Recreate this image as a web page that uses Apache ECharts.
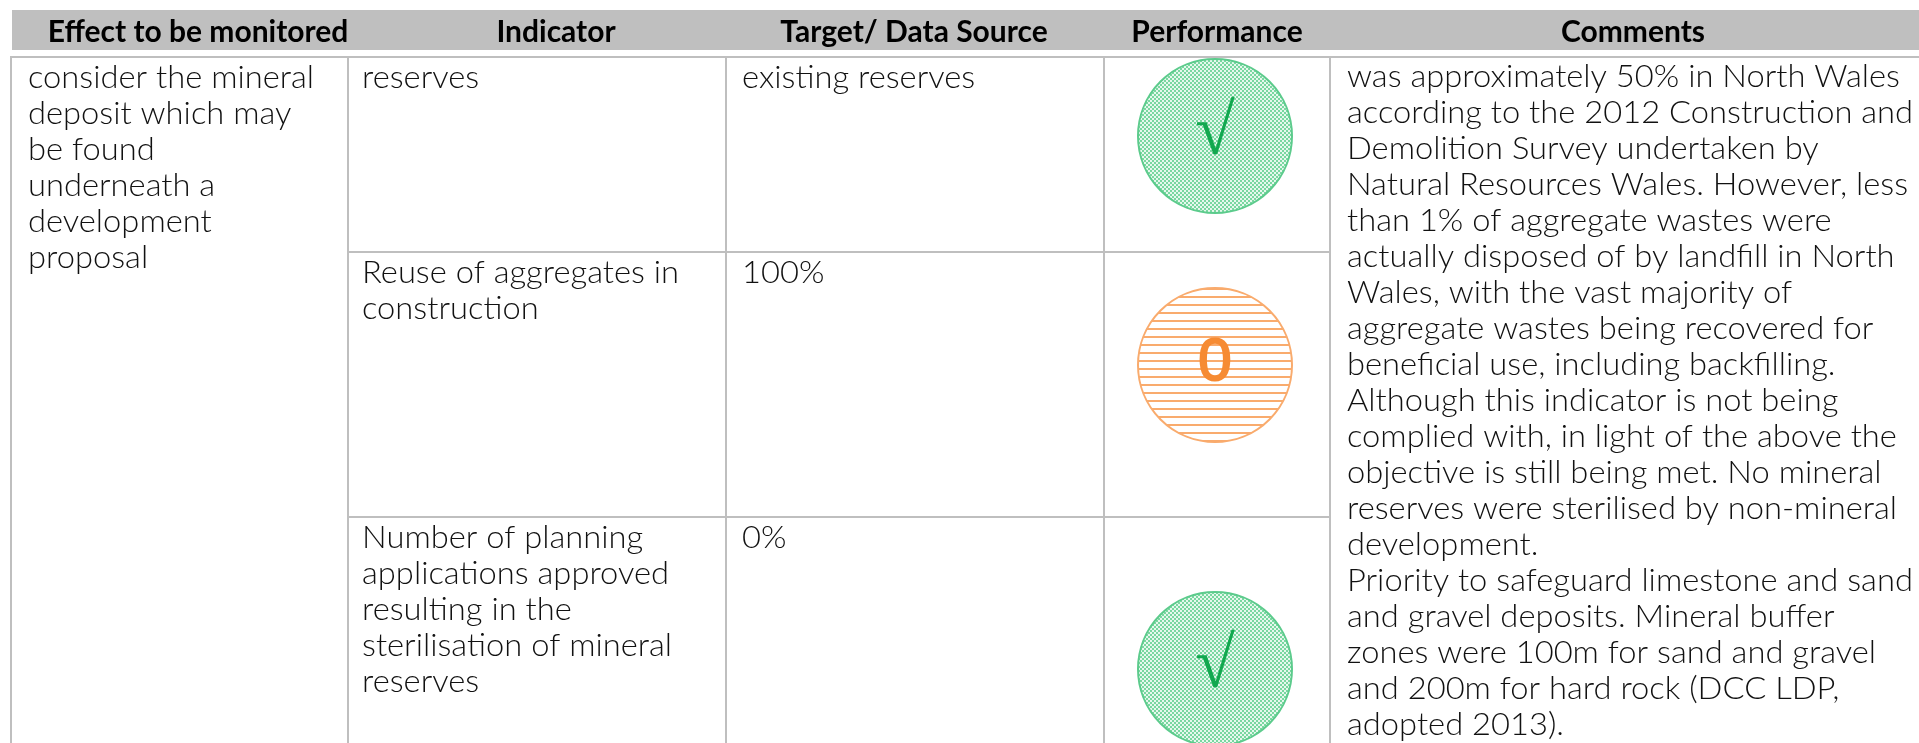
<!DOCTYPE html>
<html>
<head>
<meta charset="utf-8">
<title>Monitoring table</title>
<script src="https://cdn.jsdelivr.net/npm/echarts@6/dist/echarts.min.js"></script>
<style>
  html, body { margin: 0; padding: 0; background: #fff; }
  #chart { width: 1919px; height: 743px; }
</style>
</head>
<body>
<div id="chart"></div>
<script>
// table content
const headers = ['Effect to be monitored', 'Indicator', 'Target/ Data Source', 'Performance', 'Comments']
const effectLines = ['consider the mineral', 'deposit which may', 'be found', 'underneath a', 'development', 'proposal']
const indicatorLines = [
  ['reserves'],
  ['Reuse of aggregates in', 'construction'],
  ['Number of planning', 'applications approved', 'resulting in the', 'sterilisation of mineral', 'reserves']
]
const targetLines = [['existing reserves'], ['100%'], ['0%']]
const performance = ['met', 'partial', 'met']
const performanceMarks = ['√', '0', '√']
const commentLines = [
  'was approximately 50% in North Wales',
  'according to the 2012 Construction and',
  'Demolition Survey undertaken by',
  'Natural Resources Wales. However, less',
  'than 1% of aggregate wastes were',
  'actually disposed of by landfill in North',
  'Wales, with the vast majority of',
  'aggregate wastes being recovered for',
  'beneficial use, including backfilling.',
  'Although this indicator is not being',
  'complied with, in light of the above the',
  'objective is still being met. No mineral',
  'reserves were sterilised by non-mineral',
  'development.',
  'Priority to safeguard limestone and sand',
  'and gravel deposits. Mineral buffer',
  'zones were 100m for sand and gravel',
  'and 200m for hard rock (DCC LDP,',
  'adopted 2013).'
]

// layout, in page pixels (the hidden axes run 1:1 with the page)
const colEdges = [11, 348, 726, 1104, 1330, 1930]
const rowEdges = [57, 252, 517, 760]
const headerBand = [10, 50]
const headerCentres = [198, 556, 914, 1217, 1633]
const lineHeight = 36
const circleCentreY = [136, 365, 669]
const circleRadius = 77

const bodyFont = 'Lato, sans-serif'
const headFont = 'Lato, sans-serif'
const lineColor = '#bfbfbf'
const textColor = '#111'
const bodyScaleX = 1.055

const dotPattern = (() => {
  const c = document.createElement('canvas')
  c.width = 4
  c.height = 4
  const g = c.getContext('2d')
  g.fillStyle = '#e6f8ed'
  g.fillRect(0, 0, 4, 4)
  g.fillStyle = '#79d7a0'
  g.fillRect(0, 0, 2, 2)
  g.fillRect(2, 2, 2, 2)
  return c
})()

const stripePattern = (() => {
  const c = document.createElement('canvas')
  c.width = 8
  c.height = 8
  const g = c.getContext('2d')
  g.fillStyle = '#fff'
  g.fillRect(0, 0, 8, 8)
  g.fillStyle = '#f9ab6d'
  g.fillRect(0, 0, 8, 2)
  return c
})()

const chart = echarts.init(document.getElementById('chart'), null, { renderer: 'canvas' })

// one block of left-aligned lines per cell
const cellData = []
effectLines.forEach((t, i) => cellData.push([28, 78 + i * lineHeight, t]))
indicatorLines.forEach((lines, r) => lines.forEach((t, i) => cellData.push([362, rowEdges[r] + 21 + i * lineHeight, t])))
targetLines.forEach((lines, r) => lines.forEach((t, i) => cellData.push([742, rowEdges[r] + 21 + i * lineHeight, t])))
commentLines.forEach((t, i) => cellData.push([1347, 77 + i * lineHeight, t]))

const option = {
  animation: false,
  grid: { left: 0, right: 0, top: 0, bottom: 0 },
  xAxis: { type: 'value', min: 0, max: 1919, show: false },
  yAxis: { type: 'value', min: 0, max: 743, inverse: true, show: false },
  series: [
    {
      // header band and its labels
      type: 'custom',
      data: headers.map((h, i) => [headerCentres[i], h]),
      encode: { x: 0 },
      renderItem: (params, api) => {
        const i = params.dataIndex
        const [x, y] = api.coord([api.value(0), (headerBand[0] + headerBand[1]) / 2 + 2])
        const children = []
        if (i === 0) {
          const a = api.coord([12, headerBand[0]])
          const b = api.coord([1919, headerBand[1]])
          children.push({ type: 'rect', shape: { x: a[0], y: a[1], width: b[0] - a[0], height: b[1] - a[1] }, style: { fill: lineColor } })
        }
        children.push({
          type: 'text',
          style: { x, y, text: headers[i], fill: '#000', font: `bold 30px ${headFont}`, align: 'center', verticalAlign: 'middle' }
        })
        return { type: 'group', children }
      }
    },
    {
      // cell borders
      type: 'custom',
      data: colEdges.slice(0, 5).map((e, i) => [e, colEdges[i + 1]]),
      renderItem: (params, api) => {
        const x0 = api.coord([api.value(0), 0])[0]
        const x1 = api.coord([api.value(1), 0])[0]
        const merged = params.dataIndex === 0 || params.dataIndex === 4
        const edges = merged ? [rowEdges[0], rowEdges[3]] : rowEdges
        const style = { stroke: lineColor, lineWidth: 2, fill: null }
        return {
          type: 'group',
          children: edges.slice(0, -1).map((e, r) => ({
            type: 'rect',
            shape: { x: x0, y: api.coord([0, e])[1], width: x1 - x0, height: edges[r + 1] - e },
            style
          }))
        }
      }
    },
    {
      // cell text
      type: 'custom',
      data: cellData,
      renderItem: (params, api) => {
        const [x, y] = api.coord([api.value(0), api.value(1)])
        return {
          type: 'text',
          x,
          y,
          scaleX: bodyScaleX,
          style: { x: 0, y: 0, text: cellData[params.dataIndex][2], fill: textColor, font: `300 31px ${bodyFont}`, align: 'left', verticalAlign: 'middle' }
        }
      }
    },
    {
      // performance symbols
      type: 'custom',
      data: performance.map((p, i) => [(colEdges[3] + colEdges[4]) / 2 - 2, circleCentreY[i]]),
      renderItem: (params, api) => {
        const i = params.dataIndex
        const [cx, cy] = api.coord([api.value(0), api.value(1)])
        const met = performance[i] === 'met'
        const markColor = met ? '#12a84f' : '#f68b33'
        return {
          type: 'group',
          children: [
            {
              type: 'circle',
              shape: { cx, cy, r: circleRadius },
              style: {
                fill: { image: met ? dotPattern : stripePattern, repeat: 'repeat' },
                stroke: met ? '#5ccb8c' : '#f9ab6d',
                lineWidth: 2
              }
            },
            {
              type: 'text',
              x: cx,
              y: met ? cy - 1 : cy - 2,
              style: {
                x: 0,
                y: 0,
                text: performanceMarks[i],
                fill: markColor,
                stroke: met ? null : markColor,
                lineWidth: met ? 0 : 2,
                font: met ? '72px "Liberation Serif", serif' : '60px "Liberation Sans", sans-serif',
                align: 'center',
                verticalAlign: 'middle'
              }
            }
          ]
        }
      }
    }
  ]
}
chart.setOption(option)
</script>
</body>
</html>
